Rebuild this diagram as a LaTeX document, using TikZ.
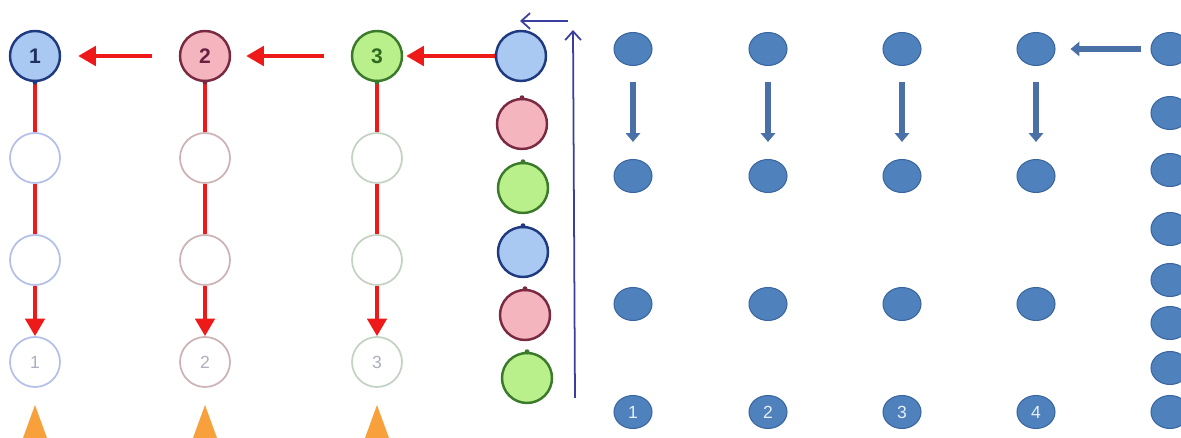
\documentclass[tikz,border=0pt]{standalone}
\usepackage{fontspec}
\setmainfont{Liberation Sans}
\usetikzlibrary{arrows.meta,shapes.geometric}
\definecolor{redar}{HTML}{EE1A1A}
\definecolor{navyar}{HTML}{3A3F9E}
\definecolor{dotfill}{HTML}{4F81BD}
\definecolor{dotdraw}{HTML}{3A66A0}
\definecolor{bluear}{HTML}{4A70A8}
\definecolor{orng}{HTML}{F7A03C}
\definecolor{bdraw}{HTML}{1F3A80}
\definecolor{bfill}{HTML}{A9C9F2}
\definecolor{btext}{HTML}{1F2F60}
\definecolor{pdraw}{HTML}{7A2A40}
\definecolor{pfill}{HTML}{F5B5BE}
\definecolor{ptext}{HTML}{6A2040}
\definecolor{gdraw}{HTML}{3A7A2A}
\definecolor{gfill}{HTML}{BAF08C}
\definecolor{gtext}{HTML}{2F6A20}
\definecolor{fbdraw}{HTML}{B4BFEA}
\definecolor{fpdraw}{HTML}{CDB3B5}
\definecolor{fgdraw}{HTML}{C3D2C3}
\definecolor{ftext}{HTML}{ABAFBF}
\definecolor{dottext}{HTML}{E8EEFA}
\tikzset{
  circ/.style={circle,minimum size=1cm,inner sep=0pt,line width=1.4pt,font=\bfseries\large},
  cblue/.style={circ,draw=bdraw,fill=bfill,text=btext},
  cpink/.style={circ,draw=pdraw,fill=pfill,text=ptext},
  cgreen/.style={circ,draw=gdraw,fill=gfill,text=gtext},
  fblue/.style={circ,draw=fbdraw,line width=1pt,font=\normalsize,text=ftext},
  fpink/.style={circ,draw=fpdraw,line width=1pt,font=\normalsize,text=ftext},
  fgreen/.style={circ,draw=fgdraw,line width=1pt,font=\normalsize,text=ftext},
  redline/.style={draw=redar,line width=2.2pt},
  redarrow/.style={redline,-{Triangle[width=11pt,length=10pt]}},
  navyarrow/.style={draw=navyar,line width=1pt,-{Straight Barb[length=5pt,width=9pt]}},
  dot/.style={ellipse,minimum width=0.76cm,minimum height=0.66cm,inner sep=0pt,fill=dotfill,draw=dotdraw,line width=0.6pt,text=dottext,font=\normalsize},
  bluearrow/.style={draw=bluear,line width=3.6pt,-{Triangle[width=8pt,length=5pt]}},
  tri/.style={fill=orng},
  port/.style={fill=#1},
}
\begin{document}
\begin{tikzpicture}[x=0.02cm,y=-0.02cm]
\useasboundingbox (0,0) rectangle (1181,438);
% left columns
\node[cblue]  (a1) at (35,56) {1};
\node[fblue]  (a2) at (35,158) {};
\node[fblue]  (a3) at (35,260) {};
\node[fblue]  (a4) at (35,362) {1};
\node[cpink]  (b1) at (205,56) {2};
\node[fpink]  (b2) at (205,158) {};
\node[fpink]  (b3) at (205,260) {};
\node[fpink]  (b4) at (205,362) {2};
\node[cgreen] (c1) at (377,56) {3};
\node[fgreen] (c2) at (377,158) {};
\node[fgreen] (c3) at (377,260) {};
\node[fgreen] (c4) at (377,362) {3};
\foreach \c in {a,b,c}{
  \draw[redline] (\c1) -- (\c2);
  \draw[redline] (\c2) -- (\c3);
  \draw[redarrow] (\c3) -- (\c4);
}
\fill[port=bdraw] (a1.south) circle (2.5);
\fill[port=pdraw] (b1.south) circle (2.5);
\fill[port=gdraw] (c1.south) circle (2.5);
% orange triangles
\fill[tri] (23,438) -- (35,405) -- (47,438) -- cycle;
\fill[tri] (193,438) -- (205,405) -- (217,438) -- cycle;
\fill[tri] (365,438) -- (377,405) -- (389,438) -- cycle;
% stack column
\node[cblue]  (r1) at (521,56) {};
\node[cpink]  (r2) at (522,124) {};
\node[cgreen] (r3) at (523,188) {};
\node[cblue]  (r4) at (523,252) {};
\node[cpink]  (r5) at (525,315) {};
\node[cgreen] (r6) at (527,378) {};
\fill[port=bdraw] (r1.west) circle (2.5);
\fill[port=pdraw] (r2.north) circle (2.5);
\fill[port=gdraw] (r3.north) circle (2.5);
\fill[port=bdraw] (r4.north) circle (2.5);
\fill[port=pdraw] (r5.north) circle (2.5);
\fill[port=gdraw] (r6.north) circle (2.5);
% red horizontal arrows
\draw[redarrow,shorten <=0.54cm,shorten >=0.34cm] (b1) -- (a1);
\draw[redarrow,shorten <=0.54cm,shorten >=0.3cm] (c1) -- (b1);
\draw[redarrow,shorten >=0.06cm] (r1) -- (c1);
% navy arrows
\coordinate (nv0) at (575,398);
\coordinate (nv1) at (573,30);
\coordinate (nh0) at (568,21);
\coordinate (nh1) at (520,21);
\draw[navyarrow] (nv0) -- (nv1);
\draw[navyarrow] (nh0) -- (nh1);
% right grid
\foreach \i/\x in {1/633,2/768,3/902,4/1036}{
  \node[dot] (g\i a) at (\x,49) {};
  \node[dot] (g\i b) at (\x,176) {};
  \node[dot] (g\i c) at (\x,304) {};
  \node[dot] (g\i d) at (\x,412) {\i};
  \draw[bluearrow,shorten <=0.32cm,shorten >=0.34cm] (g\i a) -- (g\i b);
}
\foreach \k/\y in {1/49,2/113,3/170,4/229,5/280,6/323,7/368,8/412}{
  \node[dot] (s\k) at (1170,\y) {};
}
\draw[bluearrow,shorten <=0.18cm,shorten >=0.3cm] (s1) -- (g4a);
\end{tikzpicture}
\end{document}
